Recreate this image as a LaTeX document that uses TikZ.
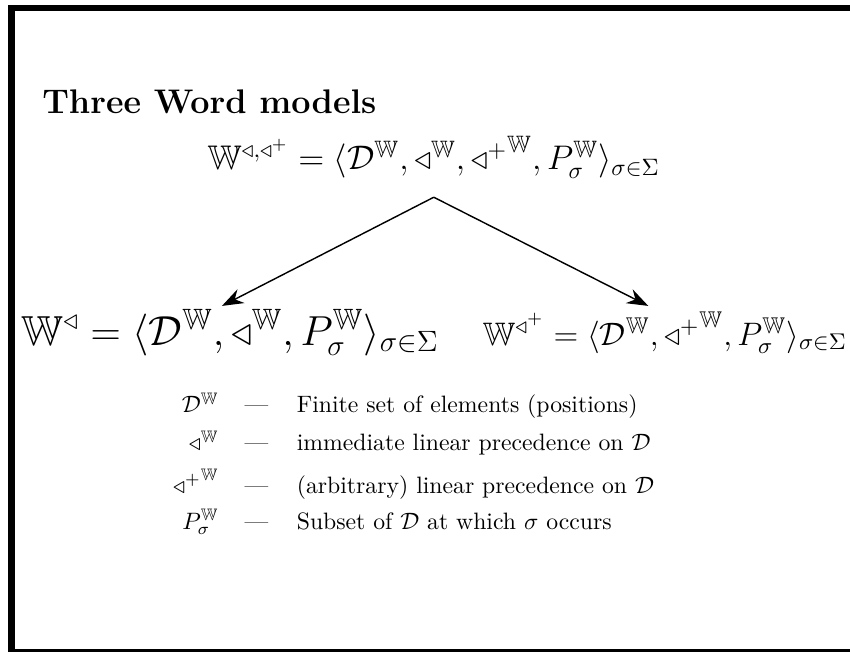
\documentclass[tikz,border=0pt]{standalone}
\usepackage{fix-cm}
\usepackage{amsmath,amssymb}
\usetikzlibrary{arrows.meta,positioning}
\newcommand{\WW}{\mathbb{W}}
\newcommand{\sux}{{\triangleleft}}
\newcommand{\suxplus}{{\triangleleft^{+}}}
\tikzset{
  >={Stealth[length=9pt,width=6.5pt]},
  frame/.style={line width=2.7pt},
  formula/.style={font=\Large, inner sep=2pt},
  heading/.style={font=\Large\bfseries, inner sep=0pt},
  conn/.style={->, semithick}
}
\begin{document}
\begin{tikzpicture}
  \useasboundingbox (0,0) rectangle (12.6,9.665);
  % frame of the slide
  \draw[frame] (0.17,0) rectangle (12.75,9.547);

  \node[heading,anchor=base west] (title) at (0.62,7.98) {Three Word models};

  % the three models
  \node[formula,anchor=base] (both) at (6.43,7.145)
    {$\WW^{\sux,\suxplus} = \langle \mathcal{D}^{\WW}, \sux^{\WW}, \suxplus^{\WW}, P_\sigma^{\WW} \rangle_{\sigma\in\Sigma}$};
  \node[formula,font=\fontsize{17.7}{21}\selectfont,anchor=base west] (succ) at (0.24,4.55)
    {$\WW^{\sux} = \langle \mathcal{D}^{\WW}, \sux^{\WW}, P_\sigma^{\WW} \rangle_{\sigma\in\Sigma}$};
  \node[formula,font=\fontsize{13.7}{16}\selectfont,anchor=base west] (prec) at (7.08,4.55)
    {$\WW^{\suxplus} = \langle \mathcal{D}^{\WW}, \suxplus^{\WW}, P_\sigma^{\WW} \rangle_{\sigma\in\Sigma}$};

  \coordinate (apex) at ([yshift=-0.2cm]both.south);
  \coordinate (tipl) at (3.29,5.13);
  \coordinate (tipr) at (9.61,5.13);
  \draw[conn] (apex) -- (tipl);
  \draw[conn] (apex) -- (tipr);

  % legend
  \node[anchor=north west, inner sep=0pt] (legend) at (2.35,3.85)
    {\begin{tabular}{r@{\hspace{11pt}}c@{\hspace{12pt}}l}
      $\mathcal{D}^{\WW}$ & --- & Finite set of elements (positions)\\[4pt]
      $\sux^{\WW}$ & --- & immediate linear precedence on $\mathcal{D}$\\[4pt]
      $\suxplus^{\WW}$ & --- & (arbitrary) linear precedence on $\mathcal{D}$\\[3pt]
      $P_\sigma^{\WW}$ & --- & Subset of $\mathcal{D}$ at which $\sigma$ occurs
    \end{tabular}};
\end{tikzpicture}
\end{document}
